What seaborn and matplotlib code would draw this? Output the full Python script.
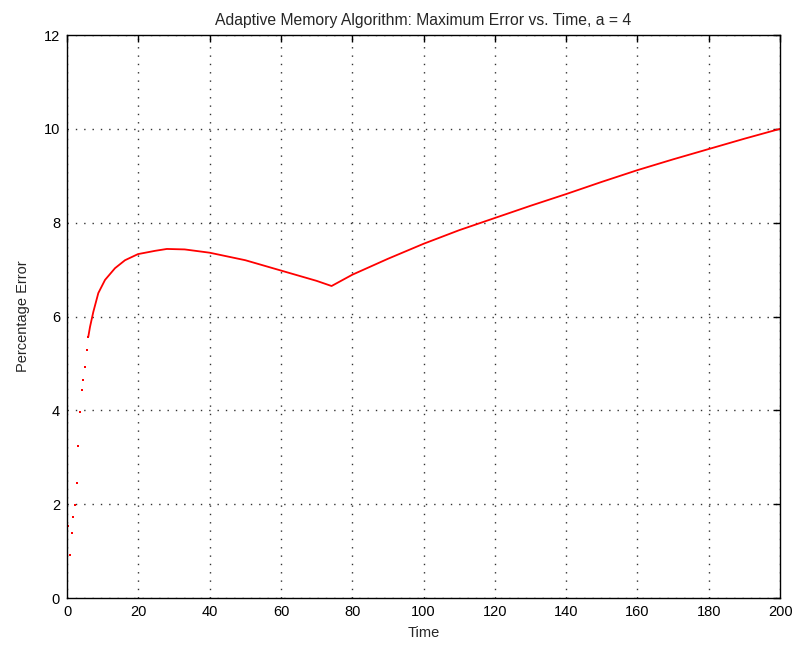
import matplotlib
matplotlib.use("Agg")
import matplotlib.pyplot as plt
import seaborn as sns
import pandas as pd

time = [0.0, 0.2, 0.84, 1.3, 1.77, 2.24, 2.72, 3.17, 3.65, 4.12, 4.57, 5.05, 5.53,
        5.97, 6.45, 7.38, 8.78, 10.66, 13.46, 16.27, 19.9, 24.7, 28.0, 33.0, 40.0,
        50.0, 60.0, 70.0, 74.2, 80.0, 90.0, 100.0, 110.0, 120.0, 130.0, 140.0,
        150.0, 160.0, 170.0, 180.0, 190.0, 200.0]
error = [0.0, 1.53, 0.92, 1.39, 1.73, 1.98, 2.45, 3.23, 3.97, 4.43, 4.65, 4.93, 5.29,
         5.57, 5.78, 6.10, 6.50, 6.78, 7.03, 7.20, 7.33, 7.40, 7.44, 7.43, 7.36,
         7.20, 6.98, 6.76, 6.65, 6.89, 7.23, 7.55, 7.84, 8.10, 8.36, 8.61,
         8.87, 9.12, 9.35, 9.57, 9.79, 10.0]

title = "Adaptive Memory Algorithm: Maximum Error vs. Time, a = 4"
xlabel = "Time"
ylabel = "Percentage Error"
xticks = list(range(0, 201, 20))
yticks = list(range(0, 13, 2))

df = pd.DataFrame({"Time": time, "Error": error})
n_dots = 14  # sparse samples at the start appear as separate dots

sns.set_style("white")
plt.rcParams["font.family"] = ["Liberation Sans", "DejaVu Sans"]

fig = plt.figure(figsize=(7.96, 6.46), dpi=100)
ax = fig.add_axes([0.0842, 0.0743, 0.8958, 0.8715])

sns.scatterplot(data=df.iloc[:n_dots], x="Time", y="Error", ax=ax, color="red",
                s=2.5, linewidth=0, marker="s")
sns.lineplot(data=df.iloc[n_dots - 1:], x="Time", y="Error", ax=ax, color="red",
             linewidth=1.3, sort=False, estimator=None)

ax.set_xlim(0, 200)
ax.set_ylim(0, 12)
ax.set_xticks(xticks)
ax.set_yticks(yticks)
ax.tick_params(direction="in", length=5, width=1, top=True, right=True,
               labelsize=10.5, colors="black", pad=5)
ax.grid(True, color="#333333", linestyle=(0, (1, 5)), linewidth=1.0)
for s in ax.spines.values():
    s.set_color("black")
    s.set_linewidth(1.0)
ax.set_title(title, fontsize=11.3, pad=7)
ax.set_xlabel(xlabel, fontsize=10.5, labelpad=5)
ax.set_ylabel(ylabel, fontsize=10.5, labelpad=10)

fig.savefig("out.png", dpi=100, facecolor="white")
